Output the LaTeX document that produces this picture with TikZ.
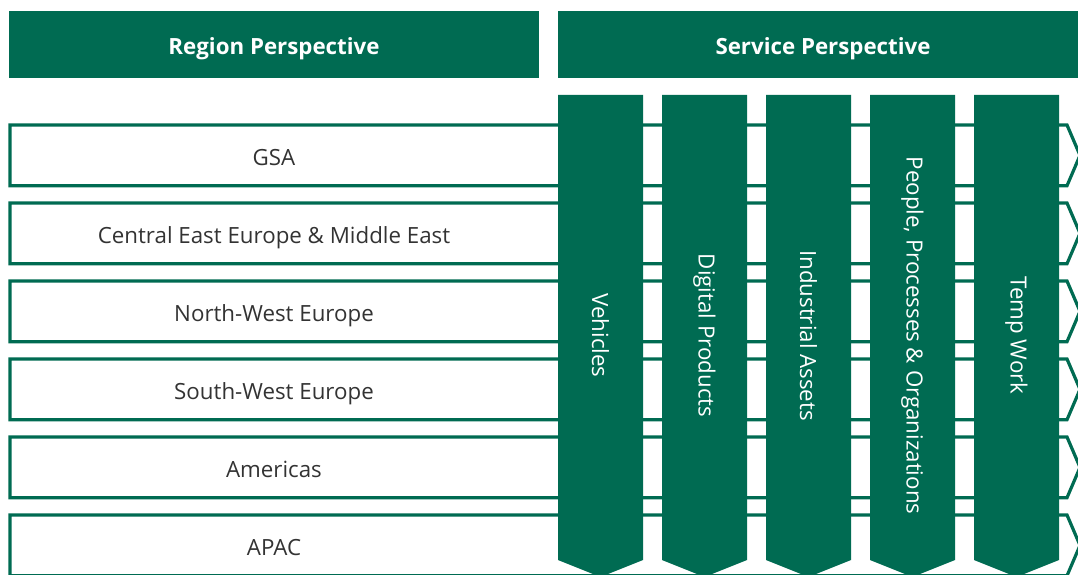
\documentclass[tikz,border=0pt]{standalone}
\usepackage{fontspec}
\setmainfont{Open Sans}
\definecolor{dbgreen}{RGB}{0,107,82}
\definecolor{txtgray}{RGB}{51,51,51}
\begin{document}
\begin{tikzpicture}[x=1pt,y=-1pt,
  header/.style={text=white,font=\fontsize{22.3}{26}\selectfont\bfseries,anchor=base,inner sep=0pt},
  rowbox/.style={draw=dbgreen,line width=3.2pt,fill=white},
  rowtext/.style={text=txtgray,font=\fontsize{22.3}{26}\selectfont,anchor=base,inner sep=0pt},
  colbox/.style={fill=dbgreen,draw=none},
  coltext/.style={text=white,font=\fontsize{22.3}{26}\selectfont,rotate=-90,anchor=center}]
\useasboundingbox (0,0) rectangle (1078,575);
% headers
\fill[dbgreen] (9,11) rectangle (539,78);
\node[header] (hregion) at (274,54.5) {Region Perspective};
\fill[dbgreen] (558,11) rectangle (1080,78);
\node[header] (hservice) at (823,54.5) {Service Perspective};
% rows
\foreach \i/\t in {0/GSA,1/Central East Europe \& Middle East,2/North-West Europe,3/South-West Europe,4/Americas,5/APAC}{
  \pgfmathsetmacro{\yt}{125+78*\i}
  \pgfmathsetmacro{\yb}{\yt+60.7}
  \pgfmathsetmacro{\ym}{\yt+30.35}
  \pgfmathsetmacro{\ybase}{\yt+40}
  \draw[rowbox] (10,\yt) -- (1067,\yt) -- (1080,\ym) -- (1067,\yb) -- (10,\yb) -- cycle;
  \node[rowtext] (row\i) at (274,\ybase) {\t};
}
% columns
\foreach \i/\t in {0/Vehicles,1/Digital Products,2/Industrial Assets,3/{People, Processes \& Organizations},4/Temp Work}{
  \pgfmathsetmacro{\xl}{558+104*\i}
  \pgfmathsetmacro{\xr}{\xl+85}
  \pgfmathsetmacro{\xm}{\xl+42.5}
  \fill[dbgreen] (\xl,95) -- (\xr,95) -- (\xr,560) -- (\xm,577) -- (\xl,560) -- cycle;
  \node[coltext] (col\i) at (\xm,335.5) {\t};
}
\end{tikzpicture}
\end{document}
